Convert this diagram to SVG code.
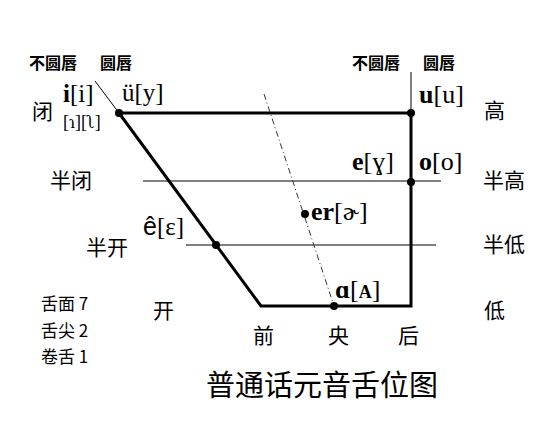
<svg xmlns="http://www.w3.org/2000/svg" width="559" height="428" viewBox="0 0 559 428">
<style>
.cjk{font-family:"Noto Sans CJK SC","Liberation Sans",sans-serif;fill:#000}
.hd{font-size:16px;font-weight:bold}
.lv{font-size:21px}
.ipa{font-family:"Liberation Serif","DejaVu Serif",serif;fill:#000;font-size:26px}
.b{font-weight:bold}
.thick{stroke:#000;stroke-width:3;fill:none}
.thin{stroke:#000;stroke-width:1;fill:none}
.dash{stroke:#333;stroke-width:1;stroke-dasharray:6 3 1 3;fill:none}
.dot{fill:#000}
</style>
<rect width="559" height="428" fill="#fff"/>
<g id="connectors">
<line class="thin" x1="95" y1="81" x2="119" y2="113"/>
<line class="thin" x1="411" y1="72" x2="411" y2="113"/>
<polyline class="thick" points="119,113 411,113 411,306 261,306 119,113"/>
<line class="thin" x1="143" y1="181" x2="441" y2="181"/>
<line class="thin" x1="186" y1="245" x2="436" y2="245"/>
<line class="dash" x1="264" y1="94" x2="334" y2="306"/>
</g>
<g id="headers">
<text class="cjk hd" x="29" y="69">不圆唇</text>
<text class="cjk hd" x="100" y="69">圆唇</text>
<text class="cjk hd" x="352" y="69">不圆唇</text>
<text class="cjk hd" x="423" y="69">圆唇</text>
</g>
<g id="levels">
<text class="cjk lv" x="32" y="119">闭</text>
<text class="cjk lv" x="50" y="188">半闭</text>
<text class="cjk lv" x="86" y="255">半开</text>
<text class="cjk lv" x="153" y="318">开</text>
<text class="cjk lv" x="484" y="118">高</text>
<text class="cjk lv" x="483" y="188">半高</text>
<text class="cjk lv" x="483" y="252">半低</text>
<text class="cjk lv" x="484" y="318">低</text>
<text class="cjk lv" x="253" y="343">前</text>
<text class="cjk lv" x="328" y="343">央</text>
<text class="cjk lv" x="398" y="343">后</text>
</g>
<g id="node-i"><text class="ipa" x="63" y="102" style="font-size:25px"><tspan class="b">i</tspan>[i]</text><text class="ipa" x="63" y="128" style="font-size:18px">[ɿ][ʅ]</text></g>
<g id="node-y"><circle class="dot" cx="119" cy="113" r="4"/><text class="ipa" x="122" y="101" style="font-size:25px">ü[y]</text></g>
<g id="node-u"><circle class="dot" cx="411" cy="113" r="4"/><text class="ipa" x="419" y="103"><tspan class="b">u</tspan>[u]</text></g>
<g id="node-e"><text class="ipa" x="352" y="170"><tspan class="b">e</tspan>[ɣ]</text></g>
<g id="node-o"><circle class="dot" cx="411" cy="182" r="4"/><text class="ipa" x="419" y="170"><tspan class="b">o</tspan>[o]</text></g>
<g id="node-er"><circle class="dot" cx="305" cy="214" r="4"/><text class="ipa" x="311" y="220"><tspan class="b">er</tspan>[ɚ]</text></g>
<g id="node-ee"><circle class="dot" cx="216" cy="245" r="4"/><text class="ipa" x="143" y="235" style="font-size:25px"><tspan style="font-family:'Liberation Sans',sans-serif">ê</tspan>[ε]</text></g>
<g id="node-a"><circle class="dot" cx="334" cy="306" r="4"/><text class="ipa" x="335" y="298"><tspan class="b">ɑ</tspan>[<tspan class="b" style="font-size:18px">A</tspan>]</text></g>
<g id="counts">
<text class="cjk" x="41" y="310" style="font-size:17px">舌面 7</text>
<text class="cjk" x="41" y="337" style="font-size:17px">舌尖 2</text>
<text class="cjk" x="41" y="363" style="font-size:17px">卷舌 1</text>
</g>
<text class="cjk" x="206" y="396" style="font-size:29px">普通话元音舌位图</text>
</svg>
